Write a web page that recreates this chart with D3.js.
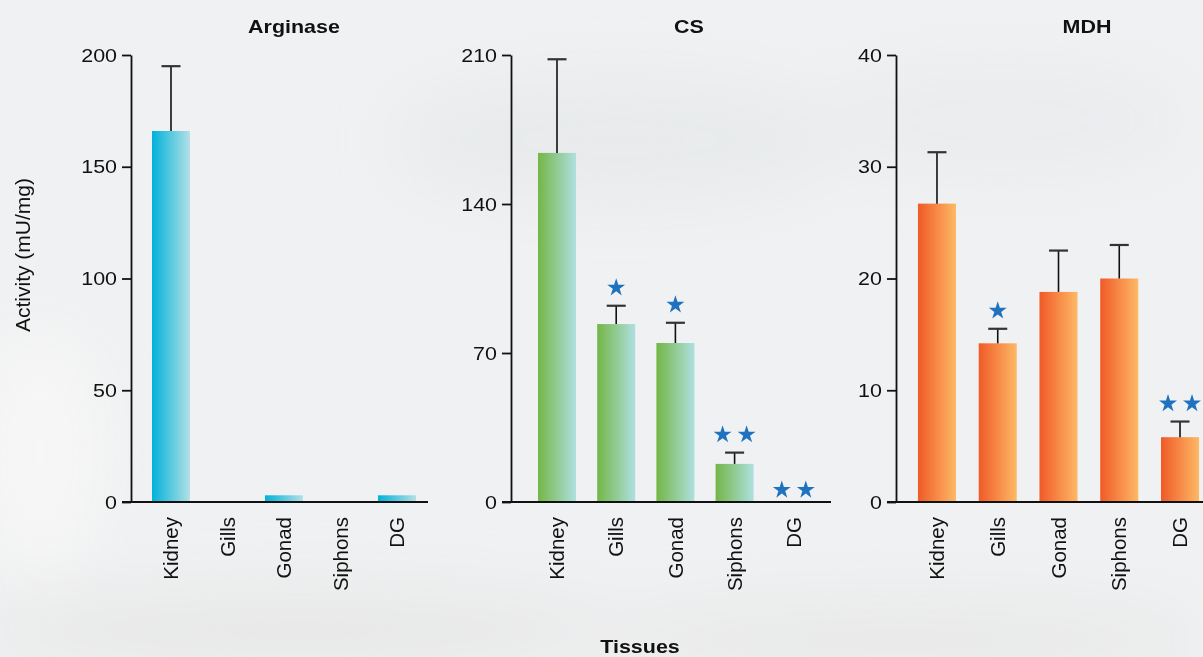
<!DOCTYPE html>
<html>
<head>
<meta charset="utf-8">
<script src="https://cdn.jsdelivr.net/npm/d3@7"></script>
<style>
  html, body { margin: 0; padding: 0; background: #f0f1f2; }
  svg { display: block; }
  text { font-family: "Liberation Sans", Arial, Helvetica, sans-serif; fill: #111; }
</style>
</head>
<body>
<svg id="chart" width="1203" height="657"></svg>
<script>
// ---------- data ----------
const tissues = ["Kidney", "Gills", "Gonad", "Siphons", "DG"];

const arginaseMean = [166, 0, 3, 0, 3];
const arginaseErr  = [29, 0, 0, 0, 0];
const arginaseStars = [0, 0, 0, 0, 0];
const arginaseTicks = [0, 50, 100, 150, 200];

const csMean = [164, 83.6, 74.7, 17.9, 0];
const csErr  = [44, 8.6, 9.5, 5.3, 0];
const csStars = [0, 1, 1, 2, 2];
const csTicks = [0, 70, 140, 210];

const mdhMean = [26.7, 14.2, 18.8, 20.0, 5.8];
const mdhErr  = [4.6, 1.3, 3.7, 3.0, 1.4];
const mdhStars = [0, 1, 0, 0, 2];
const mdhTicks = [0, 10, 20, 30, 40];

const panelTitles = ["Arginase", "CS", "MDH"];
const yLabel = "Activity (mU/mg)";
const xLabel = "Tissues";

// ---------- layout ----------
const svg = d3.select("#chart");
const W = 1203, H = 657;
const yTop = 55, yBottom = 502;
const SX = 1.13; // horizontal stretch of horizontal texts

const defs = svg.append("defs");
// background
const bgBlur = defs.append("filter").attr("id", "bgblur").attr("x", "-50%").attr("y", "-50%").attr("width", "200%").attr("height", "200%");
bgBlur.append("feGaussianBlur").attr("stdDeviation", 30);
svg.append("rect").attr("width", W).attr("height", H).attr("fill", "#f0f1f2");
const bgG = svg.append("g").attr("filter", "url(#bgblur)");
bgG.append("ellipse").attr("cx", 620).attr("cy", 140).attr("rx", 220).attr("ry", 60).attr("fill", "#e6e8ea").attr("opacity", 0.8);
bgG.append("ellipse").attr("cx", 1000).attr("cy", 120).attr("rx", 180).attr("ry", 50).attr("fill", "#e8eaec").attr("opacity", 0.7);
bgG.append("ellipse").attr("cx", 300).attr("cy", 630).attr("rx", 320).attr("ry", 40).attr("fill", "#e4e4e4").attr("opacity", 0.7);
bgG.append("ellipse").attr("cx", 900).attr("cy", 640).attr("rx", 300).attr("ry", 40).attr("fill", "#e6e6e6").attr("opacity", 0.7);
bgG.append("ellipse").attr("cx", 40).attr("cy", 450).attr("rx", 60).attr("ry", 120).attr("fill", "#f7f7f7").attr("opacity", 0.9);

const gradients = [
  { id: "gArg", from: "#00b2d9", to: "#b3e0e6" },
  { id: "gCS", from: "#74b646", to: "#aee0e0" },
  { id: "gMDH", from: "#f05a28", to: "#fdb965" }
];
gradients.forEach(g => {
  const lg = defs.append("linearGradient").attr("id", g.id).attr("x1", "0").attr("x2", "1").attr("y1", "0").attr("y2", "0");
  lg.append("stop").attr("offset", "0%").attr("stop-color", g.from);
  lg.append("stop").attr("offset", "100%").attr("stop-color", g.to);
});

const panels = [
  { title: panelTitles[0], mean: arginaseMean, err: arginaseErr, stars: arginaseStars, ticks: arginaseTicks,
    axisX: 131, band: [142.75, 425.25], pad: 0.327, xEnd: 428, titleX: 294, grad: "gArg" },
  { title: panelTitles[1], mean: csMean, err: csErr, stars: csStars, ticks: csTicks,
    axisX: 511, band: [527.4, 823.4], pad: 0.358, xEnd: 831, titleX: 689, grad: "gCS" },
  { title: panelTitles[2], mean: mdhMean, err: mdhErr, stars: mdhStars, ticks: mdhTicks,
    axisX: 896, band: [906.6, 1210.4], pad: 0.374, xEnd: 1215, titleX: 1087, grad: "gMDH" }
];

const starPath = d3.symbol().type(d3.symbolStar).size(100)();

panels.forEach(p => {
  const g = svg.append("g");
  const y = d3.scaleLinear().domain([0, d3.max(p.ticks)]).range([yBottom, yTop]);
  const x = d3.scaleBand().domain(tissues).range(p.band).paddingInner(p.pad).paddingOuter(p.pad / 2);

  // bars
  g.selectAll("rect.bar").data(tissues).join("rect")
    .attr("class", "bar")
    .attr("x", d => x(d))
    .attr("width", x.bandwidth())
    .attr("y", (d, i) => y(p.mean[i]))
    .attr("height", (d, i) => y(0) - y(p.mean[i]))
    .attr("fill", `url(#${p.grad})`);

  // error bars
  const eb = tissues.map((d, i) => ({ d, i })).filter(o => p.err[o.i] > 0);
  g.selectAll("line.ev").data(eb).join("line")
    .attr("x1", o => x(o.d) + x.bandwidth() / 2)
    .attr("x2", o => x(o.d) + x.bandwidth() / 2)
    .attr("y1", o => y(p.mean[o.i]))
    .attr("y2", o => y(p.mean[o.i] + p.err[o.i]))
    .attr("stroke", "#111").attr("stroke-width", 1.6);
  g.selectAll("line.ec").data(eb).join("line")
    .attr("x1", o => x(o.d) + x.bandwidth() / 2 - 9.5)
    .attr("x2", o => x(o.d) + x.bandwidth() / 2 + 9.5)
    .attr("y1", o => y(p.mean[o.i] + p.err[o.i]))
    .attr("y2", o => y(p.mean[o.i] + p.err[o.i]))
    .attr("stroke", "#333").attr("stroke-width", 2.2);

  // stars
  const starData = [];
  tissues.forEach((d, i) => {
    const n = p.stars[i];
    for (let k = 0; k < n; k++) {
      starData.push({ d, i, off: (k - (n - 1) / 2) * 24 });
    }
  });
  g.selectAll("path.star").data(starData).join("path")
    .attr("d", starPath)
    .attr("fill", "#1f73be")
    .attr("transform", s => `translate(${x(s.d) + x.bandwidth() / 2 + s.off},${y(p.mean[s.i] + p.err[s.i]) - (p.err[s.i] > 0 ? 18 : 12)})`);

  // y axis
  const ay = g.append("g").attr("transform", `translate(${p.axisX},0)`)
    .call(d3.axisLeft(y).tickValues(p.ticks).tickSize(9).tickSizeOuter(0).tickPadding(5).tickFormat(d3.format("d")));
  ay.select(".domain").attr("stroke", "#111").attr("stroke-width", 1.8);
  ay.selectAll(".tick line").attr("stroke", "#111").attr("stroke-width", 1.8);
  ay.selectAll(".tick text")
    .attr("font-size", 19).attr("fill", "#111")
    .style("font-family", '"Liberation Sans", Arial, sans-serif')
    .attr("x", -14 / SX)
    .attr("transform", `scale(${SX},1)`);

  // baseline
  g.append("line")
    .attr("x1", p.axisX - 9).attr("x2", p.xEnd)
    .attr("y1", y(0)).attr("y2", y(0))
    .attr("stroke", "#111").attr("stroke-width", 1.8);

  // x labels
  g.selectAll("text.xl").data(tissues).join("text")
    .attr("class", "xl")
    .attr("transform", d => `translate(${x(d) + x.bandwidth() / 2},${y(0) + 15}) rotate(-90)`)
    .attr("text-anchor", "end")
    .attr("dy", "0.35em")
    .attr("font-size", 20.5)
    .text(d => d);

  // title
  g.append("text")
    .attr("transform", `translate(${p.titleX},33) scale(${SX},1)`)
    .attr("text-anchor", "middle")
    .attr("font-weight", "bold")
    .attr("font-size", 19)
    .text(p.title);
});

// axis titles
svg.append("text")
  .attr("transform", `translate(30,255) rotate(-90)`)
  .attr("text-anchor", "middle")
  .attr("font-size", 21)
  .text(yLabel);

svg.append("text")
  .attr("transform", `translate(640,653) scale(${SX},1)`)
  .attr("text-anchor", "middle")
  .attr("font-weight", "bold")
  .attr("font-size", 19)
  .text(xLabel);
</script>
</body>
</html>
